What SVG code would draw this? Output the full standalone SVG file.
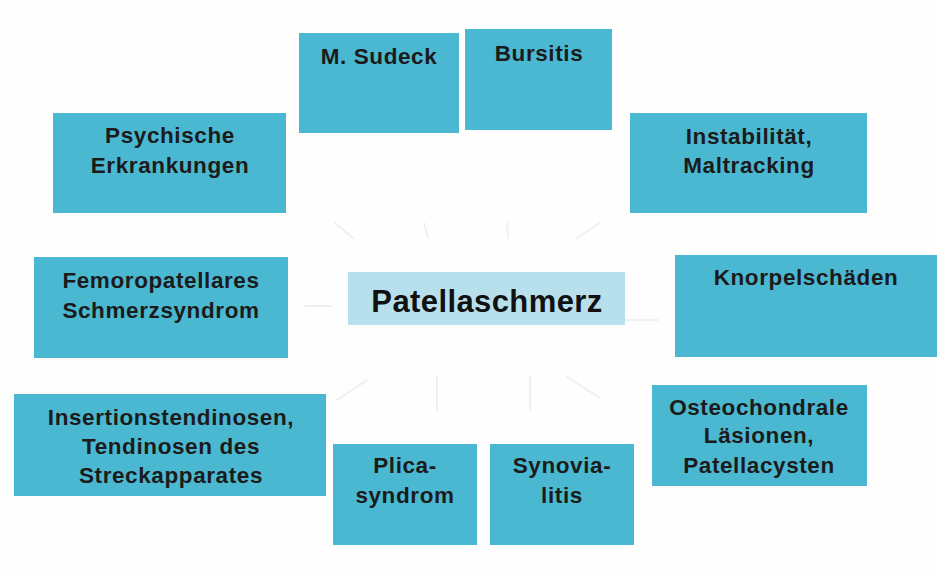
<svg xmlns="http://www.w3.org/2000/svg" width="937" height="579" viewBox="0 0 937 579">
<style>
.box{fill:#4bb8d1}
.center{fill:#b8e0ec}
.t{font-family:"Liberation Sans",Arial,sans-serif;font-weight:bold;font-size:22.5px;letter-spacing:0.6px;fill:#1b1b1b;text-anchor:middle}
.tc{font-family:"Liberation Sans",Arial,sans-serif;font-weight:bold;font-size:31px;letter-spacing:0.4px;fill:#111;text-anchor:middle}
.c{stroke:#eef0f1;stroke-width:2;fill:none;stroke-linecap:round}
</style>
<rect width="937" height="579" fill="#fefefe"/>
<g id="connectors">
<line class="c" x1="335" y1="223" x2="353" y2="238"/>
<line class="c" x1="424" y1="223" x2="428" y2="238"/>
<line class="c" x1="507" y1="223" x2="508" y2="238"/>
<line class="c" x1="600" y1="223" x2="577" y2="238"/>
<line class="c" x1="305" y1="306" x2="332" y2="306"/>
<line class="c" x1="623" y1="320" x2="658" y2="320"/>
<line class="c" x1="337" y1="400" x2="367" y2="380"/>
<line class="c" x1="437" y1="376" x2="437" y2="410"/>
<line class="c" x1="530" y1="376" x2="530" y2="410"/>
<line class="c" x1="567" y1="377" x2="600" y2="398"/>
</g>
<g id="center">
<rect class="center" x="348" y="272" width="277" height="53"/>
<text class="tc" x="487" y="312">Patellaschmerz</text>
</g>
<g id="psychische">
<rect class="box" x="53" y="113" width="233" height="100"/>
<text class="t" x="170" y="143">Psychische</text>
<text class="t" x="170" y="173">Erkrankungen</text>
</g>
<g id="sudeck">
<rect class="box" x="299" y="33" width="160" height="100"/>
<text class="t" x="379" y="64">M. Sudeck</text>
</g>
<g id="bursitis">
<rect class="box" x="465" y="29" width="147" height="101"/>
<text class="t" x="539" y="61">Bursitis</text>
</g>
<g id="instabilitaet">
<rect class="box" x="630" y="113" width="237" height="100"/>
<text class="t" x="749" y="144">Instabilität,</text>
<text class="t" x="749" y="173">Maltracking</text>
</g>
<g id="femoropatellar">
<rect class="box" x="34" y="257" width="254" height="101"/>
<text class="t" x="161" y="288">Femoropatellares</text>
<text class="t" x="161" y="318">Schmerzsyndrom</text>
</g>
<g id="knorpel">
<rect class="box" x="675" y="255" width="262" height="102"/>
<text class="t" x="806" y="285">Knorpelschäden</text>
</g>
<g id="insertion">
<rect class="box" x="14" y="394" width="312" height="102"/>
<text class="t" x="171" y="425">Insertionstendinosen,</text>
<text class="t" x="171" y="454">Tendinosen des</text>
<text class="t" x="171" y="483">Streckapparates</text>
</g>
<g id="plica">
<rect class="box" x="333" y="444" width="144" height="101"/>
<text class="t" x="405" y="473">Plica-</text>
<text class="t" x="405" y="503">syndrom</text>
</g>
<g id="synovia">
<rect class="box" x="490" y="444" width="144" height="101"/>
<text class="t" x="562" y="473">Synovia-</text>
<text class="t" x="562" y="503">litis</text>
</g>
<g id="osteochondral">
<rect class="box" x="652" y="385" width="215" height="101"/>
<text class="t" x="759" y="415">Osteochondrale</text>
<text class="t" x="759" y="443">Läsionen,</text>
<text class="t" x="759" y="473">Patellacysten</text>
</g>
</svg>
